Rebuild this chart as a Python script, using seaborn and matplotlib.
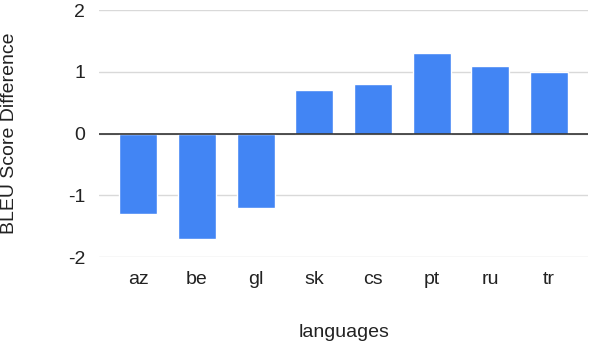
import matplotlib
matplotlib.use("Agg")
import matplotlib.pyplot as plt
import seaborn as sns
import pandas as pd

# values
languages = ["az", "be", "gl", "sk", "cs", "pt", "ru", "tr"]
bleu_diff = [-1.3, -1.7, -1.2, 0.7, 0.8, 1.3, 1.1, 1.0]
y_ticks = [-2, -1, 0, 1, 2]

df = pd.DataFrame({"language": languages, "diff": bleu_diff})

sns.set_style("white")
plt.rcParams["font.family"] = ["Liberation Sans", "DejaVu Sans"]

fig = plt.figure(figsize=(5.9, 3.46), dpi=100)
ax = fig.add_axes([0.168, 0.257, 0.829, 0.714])

sns.barplot(data=df, x="language", y="diff", color="#4285F4", saturation=1,
            width=0.65, ax=ax, zorder=3)

for yt in y_ticks:
    ax.axhline(yt, color="#d9d9d9", lw=1, zorder=1)
ax.axhline(0, color="#333333", lw=1.2, zorder=4)

ax.set_ylim(-2, 2)
ax.set_xlim(-0.67, 7.67)
ax.set_yticks(y_ticks)
ax.set_yticklabels([str(t) for t in y_ticks])
for s in ax.spines.values():
    s.set_visible(False)
ax.tick_params(axis="both", length=0, labelsize=14, colors="#222222")
ax.tick_params(axis="y", pad=10)
ax.tick_params(axis="x", pad=10)
ax.set_xlabel("languages", fontsize=14, color="#222222")
ax.set_ylabel("BLEU Score Difference", fontsize=14, color="#222222")
ax.xaxis.set_label_coords(0.5, -0.27)
ax.yaxis.set_label_coords(-0.166, 0.5)

fig.savefig("out.png", dpi=100)
